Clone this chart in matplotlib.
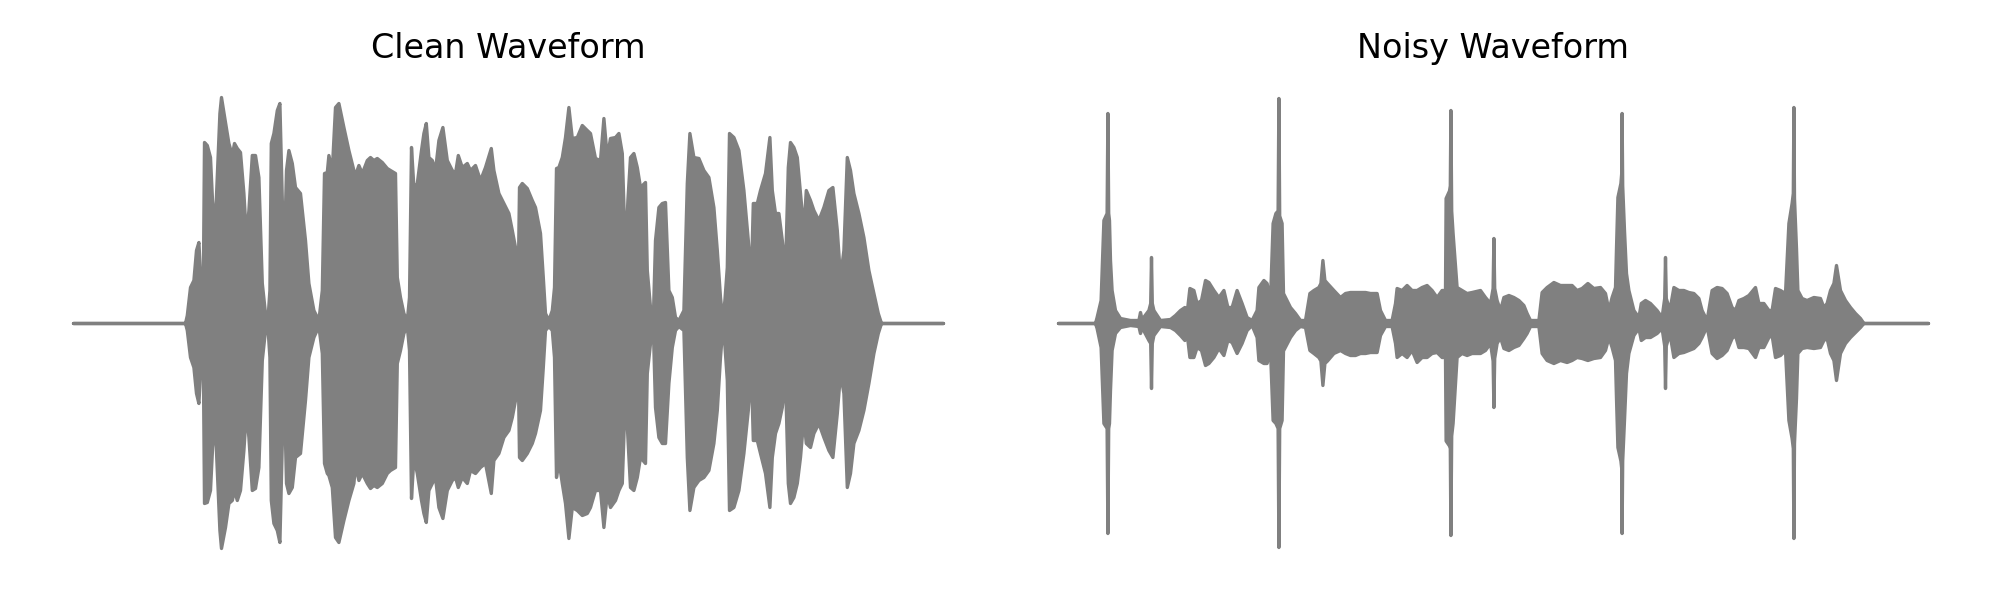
import matplotlib
matplotlib.use("Agg")
import matplotlib.pyplot as plt
import numpy as np

# ---------------- data (envelopes) ----------------
# time in seconds, amplitude (upper / lower envelope of the waveform)
clean_t = [
    0.000, 0.560, 0.569, 0.585, 0.602, 0.615, 0.627, 0.639, 0.649, 0.655,
    0.669, 0.685, 0.702, 0.714, 0.732, 0.740, 0.760, 0.777, 0.794, 0.805,
    0.819, 0.835, 0.852, 0.865, 0.877, 0.894, 0.910, 0.927, 0.944, 0.960,
    0.972, 0.982, 0.989, 1.002, 1.019, 1.032, 1.044, 1.055, 1.065, 1.077,
    1.094, 1.110, 1.135, 1.160, 1.177, 1.202, 1.227, 1.244, 1.255, 1.269,
    1.277, 1.294, 1.310, 1.327, 1.352, 1.377, 1.402, 1.410, 1.427, 1.444,
    1.469, 1.485, 1.502, 1.519, 1.544, 1.569, 1.585, 1.610, 1.619, 1.635,
    1.652, 1.669, 1.680, 1.690, 1.702, 1.719, 1.740, 1.752, 1.764, 1.777,
    1.794, 1.810, 1.827, 1.847, 1.869, 1.894, 1.910, 1.924, 1.944, 1.969,
    1.985, 2.010, 2.035, 2.060, 2.089, 2.102, 2.127, 2.152, 2.177, 2.194,
    2.210, 2.224, 2.230, 2.244, 2.269, 2.294, 2.310, 2.335, 2.349, 2.360,
    2.377, 2.394, 2.405, 2.415, 2.427, 2.444, 2.460, 2.477, 2.494, 2.519,
    2.544, 2.569, 2.585, 2.610, 2.635, 2.652, 2.669, 2.685, 2.710, 2.727,
    2.744, 2.760, 2.772, 2.785, 2.802, 2.819, 2.835, 2.860, 2.869, 2.885,
    2.899, 2.910, 2.927, 2.944, 2.960, 2.977, 2.994, 3.010, 3.027, 3.052,
    3.069, 3.082, 3.102, 3.127, 3.152, 3.177, 3.202, 3.219, 3.235, 3.247,
    3.257, 3.269, 3.280, 3.302, 3.327, 3.352, 3.374, 3.389, 3.399, 3.419,
    3.435, 3.460, 3.482, 3.494, 3.510, 3.527, 3.544, 3.560, 3.574, 3.585,
    3.602, 3.619, 3.635, 3.652, 3.664, 3.685, 3.702, 3.727, 3.752, 3.777,
    3.797, 3.819, 3.835, 3.852, 3.869, 3.885, 3.902, 3.927, 3.952, 3.977,
    4.002, 4.024, 4.040, 4.350,
]
clean_upper = [
    0, 0, 0.032, 0.144, 0.172, 0.292, 0.324, 0.132, 0.132, 0.724,
    0.712, 0.664, 0.372, 0.492, 0.840, 0.904, 0.804, 0.720, 0.672, 0.720,
    0.700, 0.684, 0.520, 0.344, 0.452, 0.672, 0.672, 0.584, 0.160, 0.040,
    0.012, 0.132, 0.720, 0.760, 0.852, 0.880, 0.492, 0.304, 0.612, 0.692,
    0.640, 0.544, 0.520, 0.332, 0.160, 0.052, 0.012, 0.132, 0.600, 0.604,
    0.672, 0.612, 0.864, 0.880, 0.784, 0.692, 0.612, 0.592, 0.632, 0.600,
    0.652, 0.664, 0.652, 0.660, 0.644, 0.620, 0.612, 0.600, 0.184, 0.104,
    0.040, 0.012, 0.104, 0.704, 0.544, 0.560, 0.692, 0.760, 0.800, 0.664,
    0.652, 0.612, 0.732, 0.784, 0.652, 0.612, 0.600, 0.672, 0.624, 0.640,
    0.612, 0.632, 0.572, 0.624, 0.700, 0.612, 0.520, 0.480, 0.440, 0.372,
    0.304, 0.184, 0.544, 0.560, 0.540, 0.492, 0.464, 0.360, 0.184, 0.040,
    0.012, 0.052, 0.144, 0.620, 0.624, 0.664, 0.744, 0.864, 0.740, 0.744,
    0.792, 0.772, 0.760, 0.660, 0.652, 0.820, 0.664, 0.740, 0.744, 0.760,
    0.680, 0.264, 0.492, 0.664, 0.680, 0.624, 0.544, 0.564, 0.212, 0.064,
    0.012, 0.332, 0.464, 0.480, 0.484, 0.132, 0.104, 0.024, 0.012, 0.052,
    0.560, 0.760, 0.664, 0.660, 0.612, 0.584, 0.464, 0.292, 0.104, 0.012,
    0.092, 0.224, 0.760, 0.744, 0.692, 0.532, 0.332, 0.172, 0.480, 0.480,
    0.532, 0.600, 0.744, 0.532, 0.440, 0.440, 0.332, 0.212, 0.624, 0.724,
    0.704, 0.664, 0.520, 0.372, 0.532, 0.492, 0.452, 0.412, 0.464, 0.532,
    0.544, 0.372, 0.184, 0.292, 0.664, 0.612, 0.520, 0.440, 0.344, 0.212,
    0.120, 0.040, 0, 0,
]
clean_lower = [
    0, 0, -0.028, -0.136, -0.176, -0.280, -0.320, -0.136, -0.128, -0.720,
    -0.716, -0.668, -0.388, -0.496, -0.828, -0.900, -0.816, -0.720, -0.708, -0.668,
    -0.708, -0.668, -0.508, -0.348, -0.456, -0.668, -0.660, -0.576, -0.148, -0.028,
    -0.012, -0.136, -0.708, -0.800, -0.828, -0.876, -0.480, -0.296, -0.640, -0.680,
    -0.656, -0.536, -0.520, -0.308, -0.136, -0.056, -0.012, -0.120, -0.560, -0.600,
    -0.608, -0.656, -0.856, -0.876, -0.788, -0.708, -0.640, -0.568, -0.628, -0.600,
    -0.640, -0.660, -0.648, -0.656, -0.640, -0.600, -0.588, -0.576, -0.160, -0.108,
    -0.040, -0.012, -0.108, -0.700, -0.536, -0.600, -0.708, -0.760, -0.796, -0.668,
    -0.640, -0.616, -0.736, -0.780, -0.668, -0.628, -0.616, -0.656, -0.616, -0.640,
    -0.588, -0.600, -0.576, -0.560, -0.680, -0.548, -0.520, -0.456, -0.428, -0.376,
    -0.308, -0.188, -0.536, -0.548, -0.520, -0.480, -0.440, -0.348, -0.176, -0.028,
    -0.012, -0.028, -0.136, -0.616, -0.548, -0.640, -0.720, -0.860, -0.736, -0.748,
    -0.768, -0.760, -0.736, -0.668, -0.668, -0.816, -0.680, -0.736, -0.708, -0.668,
    -0.640, -0.268, -0.456, -0.656, -0.668, -0.616, -0.536, -0.560, -0.200, -0.080,
    -0.012, -0.336, -0.456, -0.480, -0.480, -0.240, -0.096, -0.028, -0.012, -0.028,
    -0.536, -0.748, -0.656, -0.628, -0.616, -0.588, -0.480, -0.348, -0.136, -0.012,
    -0.088, -0.228, -0.748, -0.736, -0.668, -0.520, -0.348, -0.176, -0.468, -0.468,
    -0.520, -0.600, -0.736, -0.536, -0.440, -0.400, -0.336, -0.216, -0.640, -0.720,
    -0.696, -0.640, -0.536, -0.376, -0.480, -0.496, -0.440, -0.400, -0.456, -0.508,
    -0.536, -0.360, -0.200, -0.280, -0.656, -0.600, -0.480, -0.428, -0.348, -0.240,
    -0.120, -0.040, 0, 0,
]

noisy_t = [
    0.000, 0.185, 0.193, 0.213, 0.227, 0.243, 0.247, 0.251, 0.255, 0.260,
    0.268, 0.285, 0.310, 0.360, 0.402, 0.410, 0.418, 0.452, 0.461, 0.465,
    0.469, 0.477, 0.510, 0.560, 0.585, 0.610, 0.632, 0.643, 0.657, 0.677,
    0.693, 0.715, 0.735, 0.752, 0.777, 0.802, 0.827, 0.847, 0.868, 0.893,
    0.918, 0.943, 0.968, 0.993, 1.002, 1.027, 1.043, 1.060, 1.073, 1.087,
    1.098, 1.102, 1.106, 1.118, 1.125, 1.160, 1.185, 1.210, 1.235, 1.257,
    1.277, 1.302, 1.312, 1.322, 1.332, 1.345, 1.377, 1.410, 1.435, 1.460,
    1.485, 1.510, 1.535, 1.560, 1.593, 1.610, 1.635, 1.668, 1.685, 1.693,
    1.718, 1.743, 1.768, 1.793, 1.818, 1.843, 1.868, 1.893, 1.918, 1.935,
    1.938, 1.955, 1.959, 1.962, 1.966, 1.973, 1.993, 2.018, 2.043, 2.068,
    2.110, 2.135, 2.160, 2.173, 2.177, 2.181, 2.193, 2.210, 2.227, 2.252,
    2.277, 2.302, 2.327, 2.343, 2.360, 2.402, 2.418, 2.443, 2.477, 2.510,
    2.543, 2.568, 2.593, 2.618, 2.647, 2.677, 2.710, 2.735, 2.752, 2.768,
    2.785, 2.790, 2.797, 2.812, 2.816, 2.818, 2.821, 2.830, 2.840, 2.852,
    2.877, 2.902, 2.914, 2.935, 2.960, 2.993, 3.018, 3.031, 3.035, 3.039,
    3.057, 3.077, 3.102, 3.127, 3.152, 3.177, 3.202, 3.218, 3.243, 3.268,
    3.293, 3.318, 3.343, 3.368, 3.385, 3.402, 3.427, 3.452, 3.485, 3.502,
    3.527, 3.552, 3.568, 3.585, 3.610, 3.635, 3.652, 3.668, 3.674, 3.677,
    3.680, 3.690, 3.697, 3.718, 3.743, 3.777, 3.810, 3.827, 3.843, 3.860,
    3.877, 3.890, 3.910, 3.935, 3.960, 3.985, 4.010, 4.027, 4.350,
]
noisy_upper = [
    0, 0, 0.024, 0.092, 0.412, 0.440, 0.840, 0.440, 0.412, 0.252,
    0.132, 0.052, 0.020, 0.012, 0.012, 0.044, 0.016, 0.052, 0.080, 0.264,
    0.080, 0.052, 0.012, 0.016, 0.032, 0.052, 0.064, 0.040, 0.140, 0.132,
    0.080, 0.092, 0.172, 0.164, 0.132, 0.104, 0.132, 0.064, 0.064, 0.132,
    0.080, 0.024, 0.012, 0.052, 0.144, 0.172, 0.160, 0.092, 0.400, 0.440,
    0.450, 0.900, 0.430, 0.400, 0.120, 0.064, 0.040, 0.012, 0.012, 0.120,
    0.132, 0.144, 0.160, 0.252, 0.172, 0.160, 0.132, 0.104, 0.120, 0.124,
    0.124, 0.124, 0.124, 0.120, 0.120, 0.052, 0.012, 0.012, 0.080, 0.140,
    0.132, 0.152, 0.132, 0.132, 0.144, 0.152, 0.132, 0.104, 0.132, 0.132,
    0.500, 0.530, 0.550, 0.852, 0.450, 0.360, 0.144, 0.132, 0.120, 0.124,
    0.132, 0.104, 0.080, 0.140, 0.340, 0.140, 0.092, 0.052, 0.104, 0.112,
    0.104, 0.092, 0.072, 0.040, 0.012, 0.012, 0.124, 0.144, 0.164, 0.152,
    0.152, 0.152, 0.132, 0.140, 0.160, 0.140, 0.144, 0.120, 0.052, 0.104,
    0.144, 0.300, 0.504, 0.560, 0.600, 0.840, 0.550, 0.372, 0.200, 0.132,
    0.052, 0.024, 0.080, 0.092, 0.080, 0.052, 0.024, 0.100, 0.264, 0.100,
    0.052, 0.144, 0.132, 0.132, 0.124, 0.120, 0.100, 0.052, 0.012, 0.132,
    0.144, 0.140, 0.120, 0.064, 0.052, 0.092, 0.100, 0.112, 0.144, 0.080,
    0.080, 0.052, 0.052, 0.140, 0.132, 0.120, 0.400, 0.480, 0.520, 0.864,
    0.500, 0.300, 0.132, 0.100, 0.092, 0.104, 0.100, 0.064, 0.080, 0.132,
    0.160, 0.232, 0.132, 0.092, 0.064, 0.040, 0.020, 0, 0,
]
noisy_lower = [
    0, 0, -0.020, -0.096, -0.400, -0.420, -0.840, -0.420, -0.400, -0.268,
    -0.108, -0.040, -0.016, -0.008, -0.012, -0.040, -0.016, -0.068, -0.080, -0.260,
    -0.080, -0.048, -0.012, -0.016, -0.028, -0.048, -0.068, -0.040, -0.136, -0.136,
    -0.096, -0.108, -0.168, -0.160, -0.136, -0.100, -0.128, -0.068, -0.076, -0.120,
    -0.080, -0.028, -0.008, -0.056, -0.148, -0.160, -0.160, -0.108, -0.388, -0.400,
    -0.420, -0.896, -0.420, -0.388, -0.110, -0.056, -0.028, -0.012, -0.016, -0.108,
    -0.120, -0.136, -0.150, -0.248, -0.160, -0.150, -0.120, -0.108, -0.120, -0.128,
    -0.128, -0.120, -0.120, -0.116, -0.116, -0.048, -0.012, -0.012, -0.080, -0.136,
    -0.120, -0.136, -0.108, -0.156, -0.136, -0.136, -0.120, -0.116, -0.136, -0.136,
    -0.470, -0.490, -0.500, -0.848, -0.450, -0.400, -0.136, -0.120, -0.128, -0.120,
    -0.120, -0.108, -0.080, -0.150, -0.336, -0.140, -0.080, -0.056, -0.100, -0.108,
    -0.096, -0.088, -0.060, -0.040, -0.012, -0.012, -0.120, -0.148, -0.160, -0.148,
    -0.156, -0.148, -0.136, -0.140, -0.148, -0.140, -0.136, -0.108, -0.056, -0.096,
    -0.148, -0.300, -0.496, -0.550, -0.580, -0.840, -0.550, -0.388, -0.200, -0.120,
    -0.048, -0.020, -0.068, -0.056, -0.056, -0.040, -0.020, -0.090, -0.260, -0.090,
    -0.040, -0.136, -0.120, -0.116, -0.108, -0.100, -0.080, -0.056, -0.012, -0.120,
    -0.140, -0.128, -0.108, -0.060, -0.048, -0.096, -0.096, -0.100, -0.136, -0.096,
    -0.096, -0.056, -0.048, -0.136, -0.128, -0.108, -0.388, -0.460, -0.500, -0.860,
    -0.480, -0.300, -0.120, -0.100, -0.096, -0.100, -0.096, -0.068, -0.060, -0.120,
    -0.148, -0.228, -0.120, -0.080, -0.056, -0.036, -0.016, 0, 0,
]

titles = ["Clean Waveform", "Noisy Waveform"]

assert len(clean_t) == len(clean_upper) == len(clean_lower)
assert len(noisy_t) == len(noisy_upper) == len(noisy_lower)

# ---------------- figure ----------------
fig = plt.figure(figsize=(10, 3), dpi=200)
ax1 = fig.add_axes([0.01475, 0.05, 0.4785, 0.825])
ax2 = fig.add_axes([0.50725, 0.05, 0.4785, 0.825])

panels = [
    (ax1, clean_t, clean_upper, clean_lower, titles[0]),
    (ax2, noisy_t, noisy_upper, noisy_lower, titles[1]),
]
for ax, t, up, lo, title in panels:
    ax.fill_between(np.array(t), np.array(lo), np.array(up),
                    facecolor="gray", edgecolor="gray",
                    linewidth=1.2, joinstyle="round", capstyle="round")
    ax.set_xlim(-0.2175, 4.5675)
    ax.set_ylim(-0.988, 0.992)
    ax.set_title(title, fontsize=12)
    ax.axis("off")

fig.savefig("out.png", dpi=200)
